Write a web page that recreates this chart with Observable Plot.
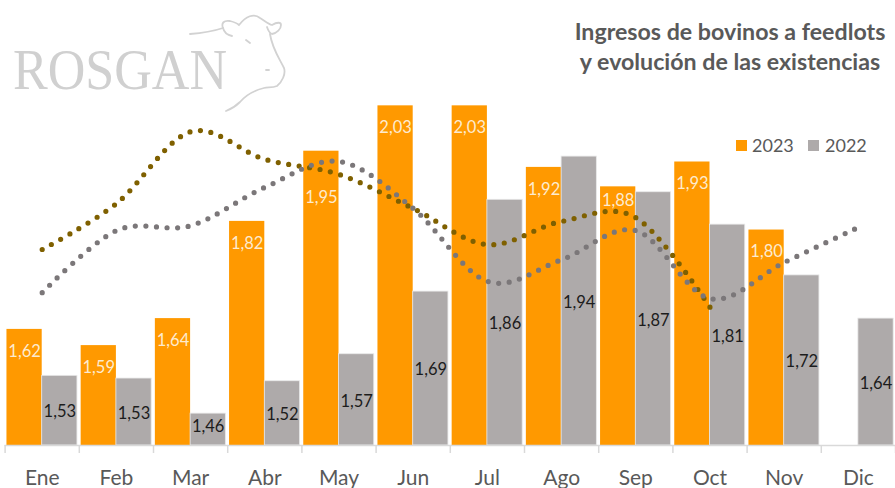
<!DOCTYPE html>
<html lang="es">
<head>
<meta charset="utf-8">
<script src="https://cdn.jsdelivr.net/npm/d3@7"></script>
<script src="https://cdn.jsdelivr.net/npm/@observablehq/plot@0.6"></script>
<style>
  html, body { margin: 0; padding: 0; background: #fff; width: 895px; height: 488px; overflow: hidden; }
  #wrap { position: relative; width: 895px; height: 488px; font-family: Lato, sans-serif; }
  #chart svg { display: block; overflow: visible; }
  #title { position: absolute; left: 565px; width: 330px; top: 16px; text-align: center; color: #595959;
    font-weight: 700; font-size: 23.2px; line-height: 30px; white-space: nowrap; }
  .leg { position: absolute; top: 134px; font-size: 18px; line-height: 22px; color: #595959; }
  .sw { position: absolute; top: 140px; width: 11px; height: 11px; }
  #logo { position: absolute; left: 0; top: 0; }
</style>
</head>
<body>
<div id="wrap">
  <div id="chart"></div>
  <svg id="logo" width="300" height="120" viewBox="0 0 300 120">
    <text x="13" y="89" font-family="Liberation Serif" font-size="58" fill="#d0d0d0" textLength="214" lengthAdjust="spacingAndGlyphs">ROSGAN</text>
    <g fill="none" stroke="#d2d2d2" stroke-width="1.8" stroke-linecap="round">
      <path d="M190 34 C204 33 214 31 223 28 C221 23 224 20 230 21 C234 22 237 23 239 25 C246 16 254 13 260 18 C265 21 268 24 272 25 C277 22 281 22 281 25 C281 29 277 33 272 34 C269 33 268 30 267 27"/>
      <path d="M223 28 C224 32 227 35 232 36"/>
      <path d="M270 34 C272 48 279 58 284 68 C286 74 282 82 277 86 C272 88 268 87 264 88 C256 90 246 95 240 102 C236 106 231 109 226 111"/>
      <path d="M246 40 L250 43"/>
      <path d="M266 70 L269 70"/>
    </g>
  </svg>
  <div id="title">Ingresos de bovinos a feedlots<br>y evolución de las existencias</div>
  <div class="sw" style="left:736px;background:#ff9900"></div>
  <div class="leg" style="left:752px">2023</div>
  <div class="sw" style="left:808px;background:#aeaaaa"></div>
  <div class="leg" style="left:825px">2022</div>
</div>
<script>
const months = ["Ene","Feb","Mar","Abr","May","Jun","Jul","Ago","Sep","Oct","Nov","Dic"];
const ingresos2023 = [1.62,1.59,1.64,1.82,1.95,2.034,2.034,1.92,1.884,1.93,1.804];
const ingresos2022 = [1.534,1.529,1.464,1.524,1.574,1.69,1.86,1.94,1.874,1.814,1.72,1.64];
const existencias2023 = [1.768,1.853,1.986,1.935,1.907,1.844,1.777,1.820,1.827,1.661];
const existencias2022 = [1.688,1.803,1.812,1.883,1.931,1.844,1.709,1.749,1.803,1.677,1.744,1.809];

const base = 1.405;
const half = 0.475;
const fmt = v => v.toFixed(2).replace(".", ",");
const rows = a => a.map((value, i) => ({i, value}));
const bars23 = rows(ingresos2023);
const bars22 = rows(ingresos2022);
const font = "Lato, sans-serif";
const label23 = (filter, dy) => Plot.text(bars23, {filter, x: d => d.i - half / 2, y: "value", text: d => fmt(d.value), dy, fill: "#fdebcf", fontSize: 16.5, fontFamily: font});
const label22 = (filter, dy) => Plot.text(bars22, {filter, x: d => d.i + half / 2, y: d => (d.value + base) / 2, text: d => fmt(d.value), dy, fill: "#1c1c1c", fontSize: 16.5, fontFamily: font});

const plot = Plot.plot({
  width: 895, height: 488,
  marginLeft: 4.6, marginRight: 0, marginTop: 0, marginBottom: 43,
  style: {fontFamily: font, background: "transparent"},
  x: {domain: [-0.5, 11.5], label: null},
  y: {domain: [base, base + 445 / 540], axis: null},
  marks: [
    Plot.rectY(bars23, {x1: d => d.i - half, x2: d => d.i, y1: () => base, y2: "value", fill: "#ff9900"}),
    Plot.rectY(bars22, {x1: d => d.i, x2: d => d.i + half, y1: () => base, y2: "value", fill: "#aeaaaa", stroke: "#e8e8e8", strokeWidth: 0.8}),
    Plot.ruleY([base], {stroke: "#d9d9d9", strokeWidth: 1.5}),
    Plot.axisX({ticks: d3.range(-0.5, 12), tickSize: 8, tickFormat: () => "", label: null, stroke: "#d9d9d9", strokeWidth: 1.5}),
    Plot.axisX({ticks: d3.range(12), tickSize: 0, tickPadding: 24.5, tickFormat: i => months[i], label: null, fontSize: 21, fill: "#595959", fontFamily: font}),
    Plot.line(rows(existencias2023), {x: "i", y: "value", curve: "cardinal", tension: 0, stroke: "#7f6000", strokeWidth: 5.2, strokeLinecap: "round", strokeDasharray: "0 10.6"}),
    Plot.line(rows(existencias2022), {x: "i", y: "value", curve: "cardinal", tension: 0, stroke: "#7b7779", strokeWidth: 5.2, strokeLinecap: "round", strokeDasharray: "0 10.6"}),
    label23(d => d.i !== 4 && d.i !== 8, 22),
    label23(d => d.i === 4, 47),
    label23(d => d.i === 8, 14),
    label22(d => d.i !== 2, 1.5),
    label22(d => d.i === 2, -3)
  ]
});
document.getElementById("chart").appendChild(plot);
</script>
</body>
</html>
